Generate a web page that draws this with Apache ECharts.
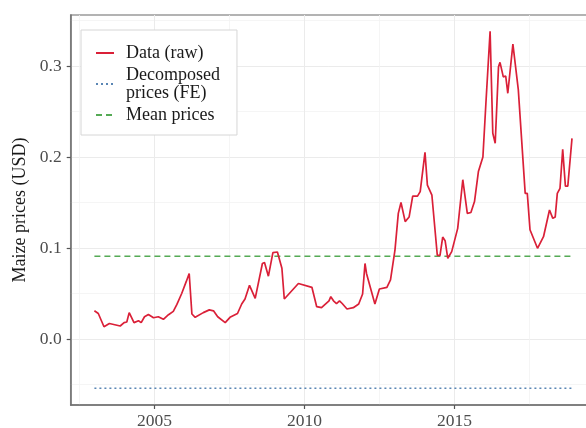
<!DOCTYPE html>
<html>
<head>
<meta charset="utf-8">
<script src="https://cdn.jsdelivr.net/npm/echarts@6/dist/echarts.min.js"></script>
<style>
html,body{margin:0;padding:0;background:#fff;}
#chart{width:586px;height:428px;}
</style>
</head>
<body>
<div id="chart"></div>
<script>
// ---- data ----
const rawYears = [
  2003.00,2003.13,2003.19,2003.32,2003.50,2003.86,2003.91,2003.99,2004.08,2004.16,
  2004.32,2004.47,2004.56,2004.67,2004.80,2004.97,2005.13,2005.30,2005.47,2005.63,
  2005.75,2005.91,2006.06,2006.16,2006.25,2006.36,2006.63,2006.83,2006.97,2007.11,
  2007.36,2007.52,2007.77,2007.91,2008.02,2008.17,2008.36,2008.60,2008.67,2008.80,
  2008.86,2008.95,2009.10,2009.25,2009.33,2009.80,2010.25,2010.41,2010.57,2010.82,
  2010.88,2010.97,2011.07,2011.17,2011.26,2011.42,2011.63,2011.81,2011.94,2012.02,
  2012.07,2012.35,2012.50,2012.75,2012.87,2013.02,2013.13,2013.22,2013.28,2013.36,
  2013.49,2013.61,2013.77,2013.86,2014.02,2014.10,2014.25,2014.43,2014.52,2014.61,
  2014.69,2014.78,2014.91,2015.11,2015.28,2015.43,2015.55,2015.67,2015.80,2015.95,
  2016.05,2016.19,2016.28,2016.36,2016.47,2016.52,2016.63,2016.71,2016.78,2016.95,
  2017.13,2017.36,2017.43,2017.52,2017.77,2017.97,2018.17,2018.28,2018.36,2018.43,
  2018.52,2018.61,2018.70,2018.78,2018.92
];
const rawPrices = [
  0.031,0.028,0.027,0.0135,0.017,0.0143,0.0128,0.018,0.0187,0.029,
  0.018,0.020,0.018,0.0245,0.027,0.0234,0.0245,0.0216,0.0267,0.0304,
  0.038,0.050,0.063,0.072,0.0275,0.0238,0.029,0.032,0.031,0.0245,
  0.018,0.0238,0.028,0.0385,0.044,0.059,0.0447,0.083,0.084,0.069,
  0.0696,0.095,0.0956,0.0777,0.044,0.061,0.0568,0.0355,0.0345,0.042,
  0.0465,0.042,0.039,0.042,0.039,0.033,0.0344,0.0385,0.0495,0.083,
  0.072,0.0385,0.055,0.0568,0.065,0.098,0.138,0.150,0.150,0.129,
  0.134,0.157,0.157,0.162,0.205,0.169,0.158,0.092,0.092,0.112,
  0.108,0.0887,0.096,0.1216,0.175,0.138,0.139,0.151,0.184,0.200,
  0.259,0.338,0.226,0.215,0.299,0.304,0.288,0.289,0.270,0.324,
  0.274,0.160,0.160,0.120,0.0997,0.1124,0.1418,0.1326,0.134,0.160,
  0.1656,0.2085,0.168,0.168,0.2205
];
const meanPrice = 0.091;
const decomposedPrice = -0.054;
const seriesNames = ['Data (raw)', 'Decomposed\nprices (FE)', 'Mean prices'];
const xTickYears = [2005, 2010, 2015];
const xMinorYears = [2002.5, 2007.5, 2012.5, 2017.5];
const yTickValues = [0.0, 0.1, 0.2, 0.3];
const yMinorValues = [-0.05, 0.05, 0.15, 0.25, 0.35];
const yTitle = 'Maize prices (USD)';

// ---- build ----
const firstYear = rawYears[0];
const lastYear = rawYears[rawYears.length - 1];
const rawData = rawYears.map((y, i) => [y, rawPrices[i]]);
const meanData = [[firstYear, meanPrice], [lastYear, meanPrice]];
const decData = [[firstYear, decomposedPrice], [lastYear, decomposedPrice]];

const FONT = 'Liberation Serif';
const X_MIN = 2002.21, X_MAX = 2019.72, Y_MIN = -0.0725, Y_MAX = 0.356;

const chart = echarts.init(document.getElementById('chart'), null, {renderer: 'canvas'});
chart.setOption({
  animation: false,
  backgroundColor: '#fff',
  grid: {left: 70.7, top: 15, right: -10, bottom: 23, show: true, outerBoundsMode: 'none', containLabel: false,
         borderColor: '#9a9a9a', borderWidth: 1.5, backgroundColor: 'transparent'},
  legend: {
    orient: 'vertical', left: 81, top: 30,
    backgroundColor: '#fff', borderColor: '#d6d6d6', borderWidth: 1,
    padding: [14, 17, 11, 14], itemGap: 4, itemWidth: 18, itemHeight: 14,
    itemStyle: {opacity: 0},
    textStyle: {fontFamily: FONT, fontSize: 18, color: '#1a1a1a', lineHeight: 18, padding: [0, 0, 0, 7]},
    data: seriesNames
  },
  xAxis: [{
    type: 'value', min: X_MIN, max: X_MAX,
    axisLine: {show: true, onZero: false, lineStyle: {color: '#707070', width: 1.5}},
    axisTick: {show: true, length: 4, customValues: xTickYears, lineStyle: {color: '#555', width: 1.2}},
    axisLabel: {customValues: xTickYears, margin: 7, fontFamily: FONT, fontSize: 17.5, color: '#4d4d4d',
                formatter: v => String(Math.round(v))},
    splitLine: {show: true, lineStyle: {color: '#ebebeb', width: 1}}
  }, {
    type: 'value', min: X_MIN, max: X_MAX, position: 'top',
    axisLine: {show: false}, axisLabel: {show: false},
    axisTick: {show: false, customValues: xMinorYears},
    splitLine: {show: true, lineStyle: {color: '#f3f3f3', width: 0.8}}
  }],
  yAxis: [{
    type: 'value', min: Y_MIN, max: Y_MAX,
    name: yTitle, nameLocation: 'middle', nameGap: 41,
    nameTextStyle: {fontFamily: FONT, fontSize: 18, color: '#1a1a1a'},
    axisLine: {show: true, onZero: false, lineStyle: {color: '#707070', width: 1.5}},
    axisTick: {show: true, length: 4, customValues: yTickValues, lineStyle: {color: '#555', width: 1.2}},
    axisLabel: {customValues: yTickValues, margin: 9, fontFamily: FONT, fontSize: 17.5, color: '#4d4d4d',
                formatter: v => v.toFixed(1)},
    splitLine: {show: true, lineStyle: {color: '#ebebeb', width: 1}}
  }, {
    type: 'value', min: Y_MIN, max: Y_MAX, position: 'right',
    axisLine: {show: false}, axisLabel: {show: false},
    axisTick: {show: false, customValues: yMinorValues},
    splitLine: {show: true, lineStyle: {color: '#f3f3f3', width: 0.8}}
  }],
  series: [{
    name: seriesNames[0], type: 'line', data: rawData, symbol: 'none',
    lineStyle: {color: '#DA2038', width: 1.7}, itemStyle: {color: '#DA2038'}, z: 5
  }, {
    name: seriesNames[1], type: 'line', data: decData, symbol: 'none',
    lineStyle: {color: '#5A86B4', width: 1.5, type: [2, 3]}, itemStyle: {color: '#5A86B4'}, z: 4
  }, {
    name: seriesNames[2], type: 'line', data: meanData, symbol: 'none',
    lineStyle: {color: '#55AA55', width: 1.5, type: [6, 4]}, itemStyle: {color: '#55AA55'}, z: 4
  }]
});
</script>
</body>
</html>
